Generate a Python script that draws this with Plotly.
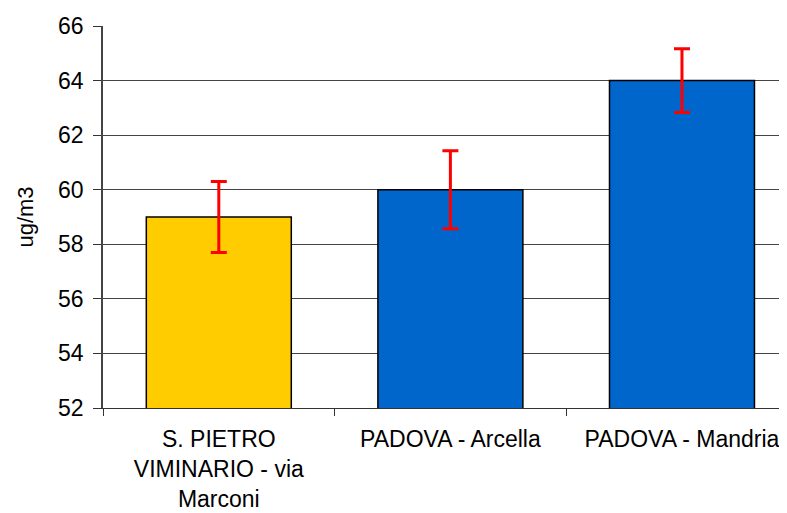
import plotly.graph_objects as go

categories = ["S. PIETRO<br>VIMINARIO - via<br>Marconi", "PADOVA - Arcella", "PADOVA - Mandria"]
values = [59.0, 60.0, 64.0]
errors = [1.3, 1.43, 1.17]
colors = ["#FFCC00", "#0066CC", "#0066CC"]
y_ticks = [52, 54, 56, 58, 60, 62, 64, 66]

FONT = "Liberation Sans, Arial, sans-serif"

fig = go.Figure()
fig.add_trace(go.Bar(
    x=categories,
    y=values,
    marker=dict(color=colors, line=dict(color="black", width=1.5)),
    error_y=dict(type="data", array=errors, visible=True, color="#FF0000", thickness=3, width=8),
    showlegend=False,
))

fig.update_layout(
    width=787, height=513,
    margin=dict(l=95, r=0, t=18, b=113),
    paper_bgcolor="white", plot_bgcolor="white",
    bargap=0.374,
    font=dict(family=FONT, size=23, color="black"),
    xaxis=dict(
        range=[-0.5, 2.488],
        showline=True, linecolor="#333", linewidth=1.2,
        ticks="outside", tickson="boundaries", ticklen=7, tickcolor="#333",
        showgrid=False, tickfont=dict(size=23),
        ticklabelstandoff=10,
    ),
    yaxis=dict(
        range=[52, 66], tickvals=y_ticks,
        showline=True, linecolor="#444", linewidth=1.5,
        ticks="outside", ticklen=8, tickcolor="#333",
        showgrid=True, gridcolor="#444", gridwidth=1,
        zeroline=False,
        tickfont=dict(size=23),
        ticklabelstandoff=5,
        title=dict(text="ug/m3", font=dict(size=22), standoff=18),
    ),
)

fig.write_html("out.html")
